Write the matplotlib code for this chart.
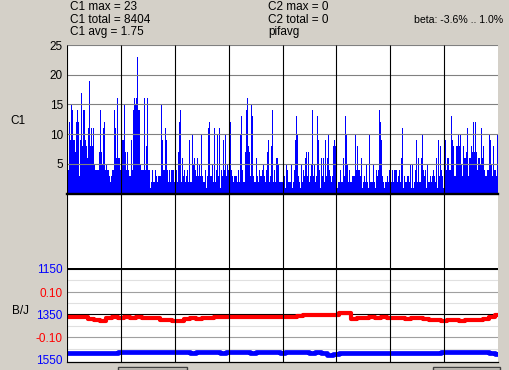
import matplotlib
matplotlib.use("Agg")
import matplotlib.pyplot as plt
from matplotlib.patches import Rectangle

W, H = 509, 370
BG = "#d4d0c8"
FONT = "Liberation Sans"

# C1 counts, one bar per screen column (8 grid sections)
c1_counts = (
    [4, 4, 12, 9, 15, 14, 9, 9, 7, 12, 14, 12, 3, 9, 17, 8, 14, 14, 9, 8, 6, 11, 19, 8, 11, 8, 11,
     5, 4, 4, 4, 4, 7, 14, 7, 5, 11, 12, 4, 5, 4, 4, 3, 2, 3, 4, 4, 14, 11, 6, 16, 6, 6, 4]
    + [4, 9, 9, 15, 7, 4, 7, 4, 3, 3, 9, 4, 14, 16, 15, 16, 23, 14, 14, 5, 4, 4, 4, 16, 4, 8, 16,
       4, 4, 1, 2, 4, 2, 2, 4, 3, 2, 3, 3, 3, 15, 9, 4, 4, 11, 9, 4, 2, 4, 2, 4, 4, 4, 2]
    + [4, 4, 2, 7, 12, 14, 2, 6, 3, 4, 2, 3, 4, 2, 9, 2, 2, 10, 5, 6, 4, 3, 6, 3, 5, 3, 10,
       3, 2, 2, 4, 1, 3, 11, 12, 3, 3, 5, 2, 11, 2, 4, 10, 3, 11, 1, 4, 3, 9, 4, 10, 3, 5, 4]
    + [16, 12, 4, 3, 2, 3, 3, 3, 2, 4, 2, 10, 13, 4, 2, 2, 7, 14, 16, 8, 7, 3, 15, 13, 3, 2, 2,
       6, 3, 2, 4, 3, 3, 4, 5, 3, 2, 4, 7, 9, 2, 3, 8, 14, 2, 4, 2, 6, 6, 5, 2, 2, 2, 2]
    + [2, 3, 1, 5, 4, 2, 2, 2, 5, 1, 2, 4, 9, 13, 10, 3, 2, 1, 5, 2, 4, 3, 6, 7, 3, 7, 2,
       3, 5, 14, 3, 5, 2, 3, 13, 9, 4, 1, 6, 3, 6, 2, 9, 3, 6, 10, 4, 3, 2, 3, 8, 9, 8, 1]
    + [1, 2, 2, 4, 2, 2, 6, 3, 13, 10, 5, 2, 4, 2, 2, 3, 3, 3, 10, 4, 8, 4, 4, 3, 6, 1, 2,
       3, 2, 5, 2, 1, 10, 2, 2, 2, 5, 2, 1, 4, 3, 4, 14, 12, 9, 3, 2, 1, 2, 2, 3, 2, 4, 3]
    + [2, 4, 2, 4, 4, 4, 2, 3, 4, 2, 6, 11, 1, 3, 2, 2, 3, 3, 2, 5, 1, 5, 1, 2, 4, 9, 2,
       6, 2, 2, 6, 10, 4, 3, 4, 1, 5, 2, 2, 3, 2, 3, 4, 3, 2, 6, 1, 9, 3, 8, 4, 3, 1, 6, 9]
    + [4, 6, 6, 4, 4, 13, 9, 8, 3, 3, 8, 8, 10, 8, 10, 5, 3, 8, 6, 6, 7, 11, 3, 6, 6, 8,
       7, 12, 7, 12, 7, 4, 6, 6, 5, 11, 6, 8, 4, 3, 3, 4, 4, 10, 9, 5, 3, 8, 4, 4, 3, 10]
)

# lower panel traces, equally spaced samples across the width
red_vals = [-0.010, -0.009, -0.011, -0.012, -0.020, -0.023, -0.028, -0.013, -0.012, -0.013,
            -0.012, -0.013, -0.012, -0.014, -0.013, -0.015, -0.022, -0.025, -0.027, -0.029,
            -0.017, -0.016, -0.017, -0.016, -0.013, -0.010, -0.009, -0.010, -0.010, -0.009,
            -0.010, -0.010, -0.011, -0.010, -0.010, -0.009, -0.011, -0.010, -0.008, -0.004,
            -0.003, -0.003, -0.002, -0.002, -0.001, -0.002, 0.006, 0.009, -0.018, -0.014,
            -0.013, -0.012, -0.013, -0.012, -0.013, -0.016, -0.015, -0.017, -0.016, -0.016,
            -0.018, -0.025, -0.024, -0.026, -0.025, -0.024, -0.026, -0.025, -0.024, -0.023,
            -0.020, -0.012, -0.003]
blue_vals = ([1519, 1518, 1520, 1519, 1519, 1518, 1520, 1519, 1519]
             + [1514, 1513, 1514, 1515, 1514, 1513, 1514, 1514, 1515]
             + [1517, 1516, 1517, 1518, 1517, 1517, 1516, 1517, 1518, 1517, 1517, 1516, 1517,
                1518, 1517, 1516, 1517, 1517, 1518, 1517, 1516, 1517, 1517, 1518, 1517, 1518]
             + [1530, 1524, 1521, 1519]
             + [1519, 1518, 1519, 1520, 1519, 1518, 1519, 1519, 1520, 1519, 1518, 1519, 1519,
                1520, 1519]
             + [1514, 1515, 1514, 1513, 1514, 1515, 1514]
             + [1517, 1520, 1523])

c1_ticks = [5, 10, 15, 20, 25]
blue_ticks = [1150, 1350, 1550]
blue_minor = [1200, 1300, 1400, 1500]
red_ticks = [0.10, -0.10]

info_left = ["C1 max = 23", "C1 total = 8404", "C1 avg = 1.75"]
info_mid = ["C2 max = 0", "C2 total = 0", "pifavg"]
beta_text = "beta: -3.6% .. 1.0%"


def px_rect(x0, y0, x1, y1):
    # pixel box (top-left origin) -> figure fraction rect
    return [x0 / W, 1 - y1 / H, (x1 - x0) / W, (y1 - y0) / H]


fig = plt.figure(figsize=(W / 100, H / 100), dpi=100, facecolor=BG)

# white plot box behind everything
ax_bg = fig.add_axes(px_rect(67, 45, 498, 362))
ax_bg.set_facecolor("white")
ax_bg.set_xticks([])
ax_bg.set_yticks([])
for s in ax_bg.spines.values():
    s.set_visible(False)

# C1 bars
ax1 = fig.add_axes(px_rect(67, 45, 498, 193.5))
ax1.patch.set_alpha(0)
ax1.bar(range(len(c1_counts)), c1_counts, width=1.0, align="edge",
        color="#0000ff", linewidth=0)
ax1.set_xlim(0, len(c1_counts))
ax1.set_ylim(0, 25)
ax1.set_yticks(c1_ticks)
ax1.set_yticklabels([str(t) for t in c1_ticks], family=FONT, fontsize=8.5)
ax1.tick_params(axis="y", length=0, pad=3)
ax1.set_xticks([])
ax1.set_axisbelow(False)
ax1.grid(axis="y", color="#808080", lw=0.8)
ax1.axhline(0, color="black", lw=1.7, clip_on=False, zorder=3)
for s in ax1.spines.values():
    s.set_visible(False)

# lower panel: blue on inverted scale, red on its own scale
ax2 = fig.add_axes(px_rect(67, 268, 498, 362))
ax2.patch.set_alpha(0)
ax2.set_xlim(0, len(blue_vals) - 1)
ax2.set_ylim(1558.8, 1147)
for v in blue_minor:
    ax2.axhline(v, color="#e0e0e0", lw=0.8, zorder=1)
ax2.axhline(1150, color="black", lw=1.5, zorder=1.5)
ax2.axhline(1350, color="black", lw=0.8, zorder=1.5)
ax2.plot(range(len(blue_vals)), blue_vals, color="#0000ff", lw=3.4,
         drawstyle="steps-mid", zorder=3)
ax2.set_yticks(blue_ticks)
ax2.set_yticklabels([str(t) for t in blue_ticks], family=FONT, fontsize=8.5, color="#0000ff")
ax2.tick_params(axis="y", length=0, pad=3)
ax2.set_xticks([])
for s in ax2.spines.values():
    s.set_visible(False)
ax2.spines["bottom"].set_visible(True)
ax2.spines["bottom"].set_linewidth(0.9)

ax3 = ax2.twinx()
ax3.set_ylim(-0.2098, 0.208)
for v in red_ticks:
    ax3.axhline(v, color="#a0a0a0", lw=0.8, zorder=1)
ax3.plot(range(len(red_vals)), red_vals, color="#ff0000", lw=3.0,
         drawstyle="steps-mid", zorder=3)
ax3.yaxis.set_ticks_position("left")
ax3.set_yticks(red_ticks)
ax3.set_yticklabels([f"{t:.2f}" for t in red_ticks], family=FONT, fontsize=8.5, color="#ff0000")
ax3.tick_params(axis="y", length=0, pad=3)
for s in ax3.spines.values():
    s.set_visible(False)

# section dividers and left border over the data
ax_top = fig.add_axes(px_rect(67, 45, 498, 362))
ax_top.patch.set_alpha(0)
ax_top.set_xlim(0, 8)
ax_top.set_ylim(0, 1)
ax_top.vlines(range(8), 0, 1, color="black", lw=0.8)
ax_top.set_xticks([])
ax_top.set_yticks([])
for s in ax_top.spines.values():
    s.set_visible(False)

# header text and axis captions
for i, (a, b) in enumerate(zip(info_left, info_mid)):
    y = 1 - (7 + 12.7 * i) / H
    fig.text(70 / W, y, a, family=FONT, fontsize=8.5, va="center")
    fig.text(268 / W, y, b, family=FONT, fontsize=8.5, va="center")
fig.text(503 / W, 1 - 20 / H, beta_text, family=FONT, fontsize=7.6, va="center", ha="right")
fig.text(10 / W, 1 - 121 / H, "C1", family=FONT, fontsize=8.5, va="center")
fig.text(12 / W, 1 - 311 / H, "B/J", family=FONT, fontsize=8.5, va="center")

# bits of the window widgets along the bottom edge
for x0, x1 in [(118, 187), (433, 500)]:
    fig.patches.append(Rectangle((x0 / W, 0), (x1 - x0) / W, 3 / H,
                                 transform=fig.transFigure, facecolor=BG,
                                 edgecolor="#404040", lw=1.0))

fig.savefig("out.png", dpi=100, facecolor=BG)
